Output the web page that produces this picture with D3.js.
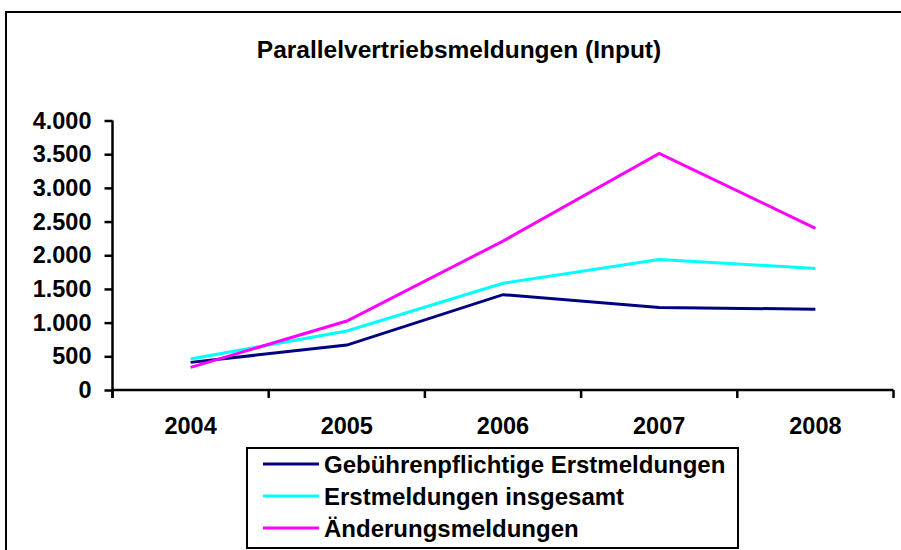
<!DOCTYPE html>
<html>
<head>
<meta charset="utf-8">
<script src="https://cdn.jsdelivr.net/npm/d3@7"></script>
<style>
  body { margin: 0; background: #fff; }
  svg { display: block; font-family: "Liberation Sans", Arial, sans-serif; font-weight: bold; }
  .axis path, .axis line { stroke: #000; stroke-width: 2.5; }
  .axis text { font-size: 23.5px; fill: #000; font-weight: bold; }
  .line { fill: none; stroke-width: 3; }
</style>
</head>
<body>
<svg id="chart" width="901" height="550"></svg>
<script>
// values
var years = ["2004", "2005", "2006", "2007", "2008"];
var gebuehrenpflichtig = [410, 667, 1415, 1223, 1200];
var erstInsgesamt = [460, 876, 1585, 1938, 1805];
var aenderungen = [335, 1024, 2210, 3511, 2400];
var seriesNames = ["Gebührenpflichtige Erstmeldungen", "Erstmeldungen insgesamt", "Änderungsmeldungen"];
var seriesColors = ["#000080", "#00FFFF", "#FF00FF"];
var yTicks = [0, 500, 1000, 1500, 2000, 2500, 3000, 3500, 4000];

var allSeries = [gebuehrenpflichtig, erstInsgesamt, aenderungen];

var svg = d3.select("#chart");

// outer chart frame
svg.append("rect")
  .attr("x", 6).attr("y", 12)
  .attr("width", 910).attr("height", 560)
  .attr("fill", "none").attr("stroke", "#000").attr("stroke-width", 2);

svg.append("text")
  .attr("x", 459).attr("y", 58)
  .attr("text-anchor", "middle")
  .attr("font-size", 24.5)
  .text("Parallelvertriebsmeldungen (Input)");

var x = d3.scaleBand().domain(years).range([112.5, 893.5]);
var y = d3.scaleLinear().domain([0, 4000]).range([390, 120.5]);

var fmt = function(d) { return d3.format(",")(d).replace(/,/g, "."); };

svg.append("g")
  .attr("class", "y axis")
  .attr("transform", "translate(" + x.range()[0] + ",0)")
  .call(d3.axisLeft(y).tickValues(yTicks).tickFormat(fmt).tickSize(8).tickSizeOuter(0).tickPadding(13))
  .call(function(g) { g.select(".domain").attr("d", "M0," + y(4000) + "V398"); });

// x axis: ticks on band boundaries, labels at band centres
var xg = svg.append("g")
  .attr("class", "x axis")
  .attr("transform", "translate(0," + y(0) + ")");
xg.append("path")
  .attr("class", "domain")
  .attr("d", "M" + x.range()[0] + ",0H" + x.range()[1]);
var bounds = years.map(function(d) { return x(d); }).concat([x.range()[1]]);
xg.selectAll("line.tick").data(bounds).enter().append("line")
  .attr("x1", function(d) { return d; }).attr("x2", function(d) { return d; })
  .attr("y1", 0).attr("y2", 8);
xg.selectAll("text").data(years).enter().append("text")
  .attr("x", function(d) { return x(d) + x.bandwidth() / 2; })
  .attr("y", 44)
  .attr("text-anchor", "middle")
  .text(function(d) { return d; });

var line = d3.line()
  .x(function(d, i) { return x(years[i]) + x.bandwidth() / 2; })
  .y(function(d) { return y(d); });

allSeries.forEach(function(s, k) {
  svg.append("path")
    .datum(s)
    .attr("class", "line")
    .attr("stroke", seriesColors[k])
    .attr("d", line);
});

// legend
var lg = svg.append("g");
lg.append("rect")
  .attr("x", 247).attr("y", 448)
  .attr("width", 491).attr("height", 100)
  .attr("fill", "#fff").attr("stroke", "#000").attr("stroke-width", 2);
var rows = lg.selectAll("g.row").data(seriesNames).enter().append("g")
  .attr("transform", function(d, i) { return "translate(0," + (464 + i * 32) + ")"; });
rows.append("line")
  .attr("x1", 263).attr("x2", 319).attr("y1", 0).attr("y2", 0)
  .attr("stroke-width", 3)
  .attr("stroke", function(d, i) { return seriesColors[i]; });
rows.append("text")
  .attr("x", 324).attr("y", 8.5)
  .attr("font-size", 24)
  .text(function(d) { return d; });
</script>
</body>
</html>
